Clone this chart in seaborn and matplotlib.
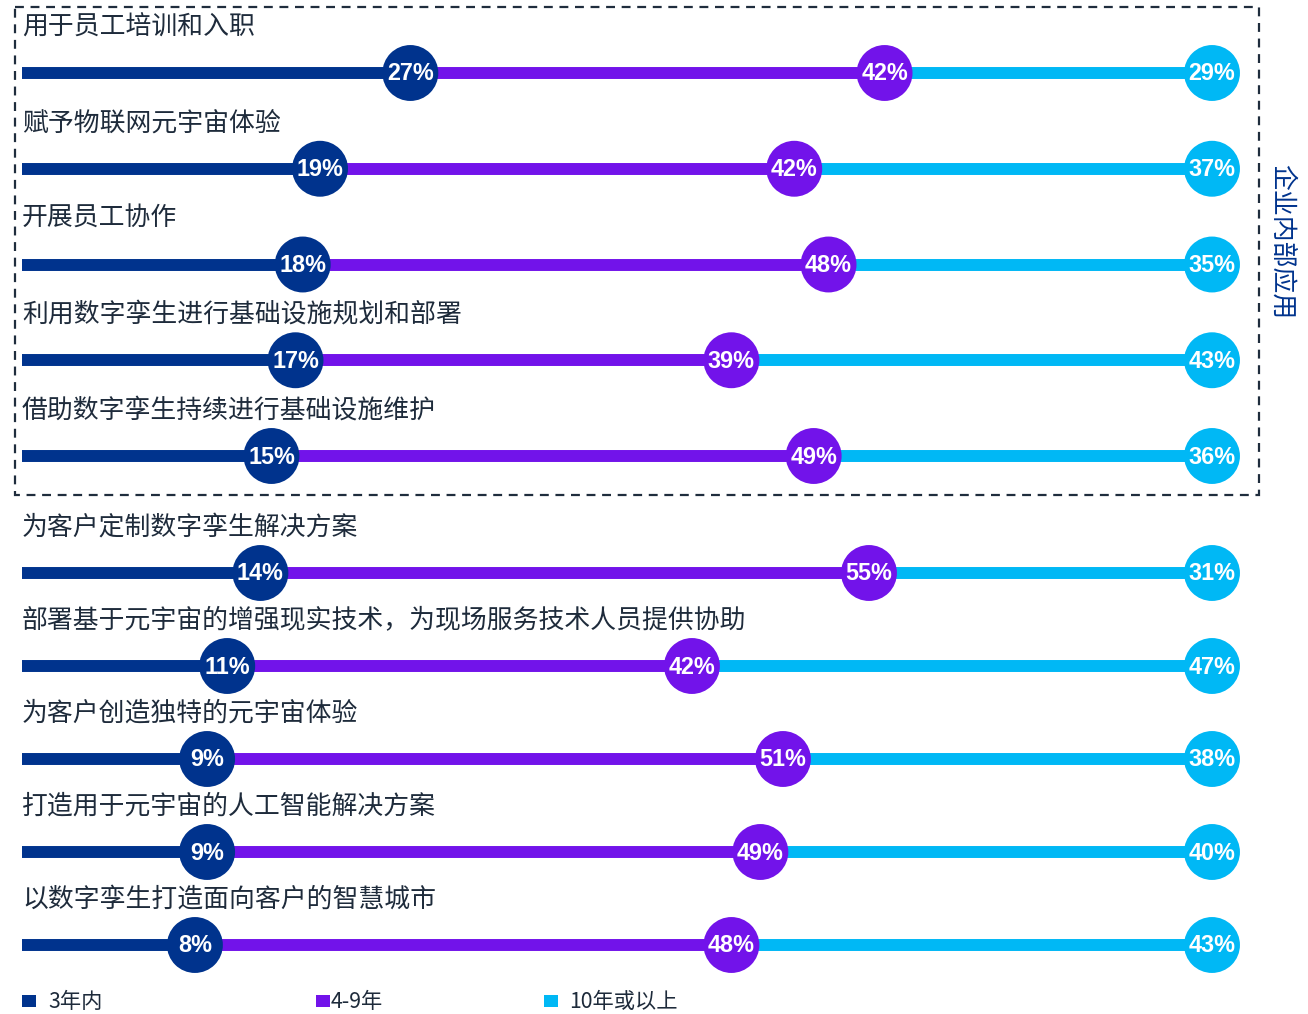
import matplotlib
matplotlib.use("Agg")
import matplotlib.pyplot as plt
from matplotlib.patches import Rectangle
import seaborn as sns
import pandas as pd

sns.set_theme(style="white")
plt.rcParams["font.family"] = ["Noto Sans CJK SC", "DejaVu Sans"]

# ---- data -------------------------------------------------------------
categories = [
    "用于员工培训和入职",
    "赋予物联网元宇宙体验",
    "开展员工协作",
    "利用数字孪生进行基础设施规划和部署",
    "借助数字孪生持续进行基础设施维护",
    "为客户定制数字孪生解决方案",
    "部署基于元宇宙的增强现实技术，为现场服务技术人员提供协助",
    "为客户创造独特的元宇宙体验",
    "打造用于元宇宙的人工智能解决方案",
    "以数字孪生打造面向客户的智慧城市",
]
within_3y = [27, 19, 18, 17, 15, 14, 11, 9, 9, 8]
y4_to_9 = [42, 42, 48, 39, 49, 55, 42, 51, 49, 48]
y10_plus = [29, 37, 35, 43, 36, 31, 47, 38, 40, 43]
series_names = ["3年内", "4-9年", "10年或以上"]
group_label = "企业内部应用"

colors = ["#00338D", "#7213EA", "#00B8F5"]
text_color = "#1E2B3B"

# ---- figure / axes ----------------------------------------------------
W, H, DPI = 1308, 1014, 100
fig = plt.figure(figsize=(W / DPI, H / DPI), dpi=DPI)
ax = fig.add_axes([0, 0, 1, 1])
# x in percent of each row's total, y in figure pixel rows
x0, k = 105.5, 11.065
ax.set_xlim((0 - x0) / k, (W - x0) / k)
ax.set_ylim(H, 0)
ax.axis("off")

def px_to_x(p):
    return (p - x0) / k

row_y = [73 + 95.75 * i for i in range(5)] + [573 + 93 * i for i in range(5)]
line_start = px_to_x(22)

rows = []
for i, cat in enumerate(categories):
    vals = [within_3y[i], y4_to_9[i], y10_plus[i]]
    total = sum(vals)
    cum = 0
    prev = line_start
    for j, v in enumerate(vals):
        cum += v
        pos = cum / total * 100
        ax.plot([prev, pos], [row_y[i], row_y[i]], color=colors[j],
                lw=8.6, solid_capstyle="butt", zorder=1)
        rows.append({"cat": cat, "series": series_names[j], "value": v,
                     "pos": pos, "y": row_y[i]})
        prev = pos
    ax.text(px_to_x(22), row_y[i] - 46, cat, fontsize=18.6, color=text_color,
            va="center", ha="left")

df = pd.DataFrame(rows)
sns.scatterplot(data=df, x="pos", y="y", hue="series", palette=colors,
                hue_order=series_names, s=1620, linewidth=0, legend=False,
                ax=ax, zorder=3)
for _, r in df.iterrows():
    ax.text(r["pos"], r["y"] + 1, f"{r['value']}%", ha="center", va="center",
            color="white", fontsize=16.8, fontweight="bold",
            family=["Liberation Sans", "DejaVu Sans"], zorder=4)

# dashed frame around the internal-use group
ax.add_patch(Rectangle((px_to_x(15), 7), px_to_x(1259) - px_to_x(15), 488,
                       fill=False, ls=(0, (4, 3)), lw=1.6,
                       edgecolor="#1F2D3D", zorder=0))
ax.text(px_to_x(1282), 242, group_label, rotation=-90, ha="center",
        va="center", fontsize=18.6, color=colors[0])

# legend
leg_sq = [22, 316, 544]
leg_tx = [48, 331, 569]
for j, name in enumerate(series_names):
    ax.add_patch(Rectangle((px_to_x(leg_sq[j]), 995), 14 / k, 12,
                           color=colors[j], lw=0))
    ax.text(px_to_x(leg_tx[j]), 1002, name, fontsize=15.3, color=text_color,
            va="center", ha="left")

fig.savefig("out.png", dpi=DPI)
